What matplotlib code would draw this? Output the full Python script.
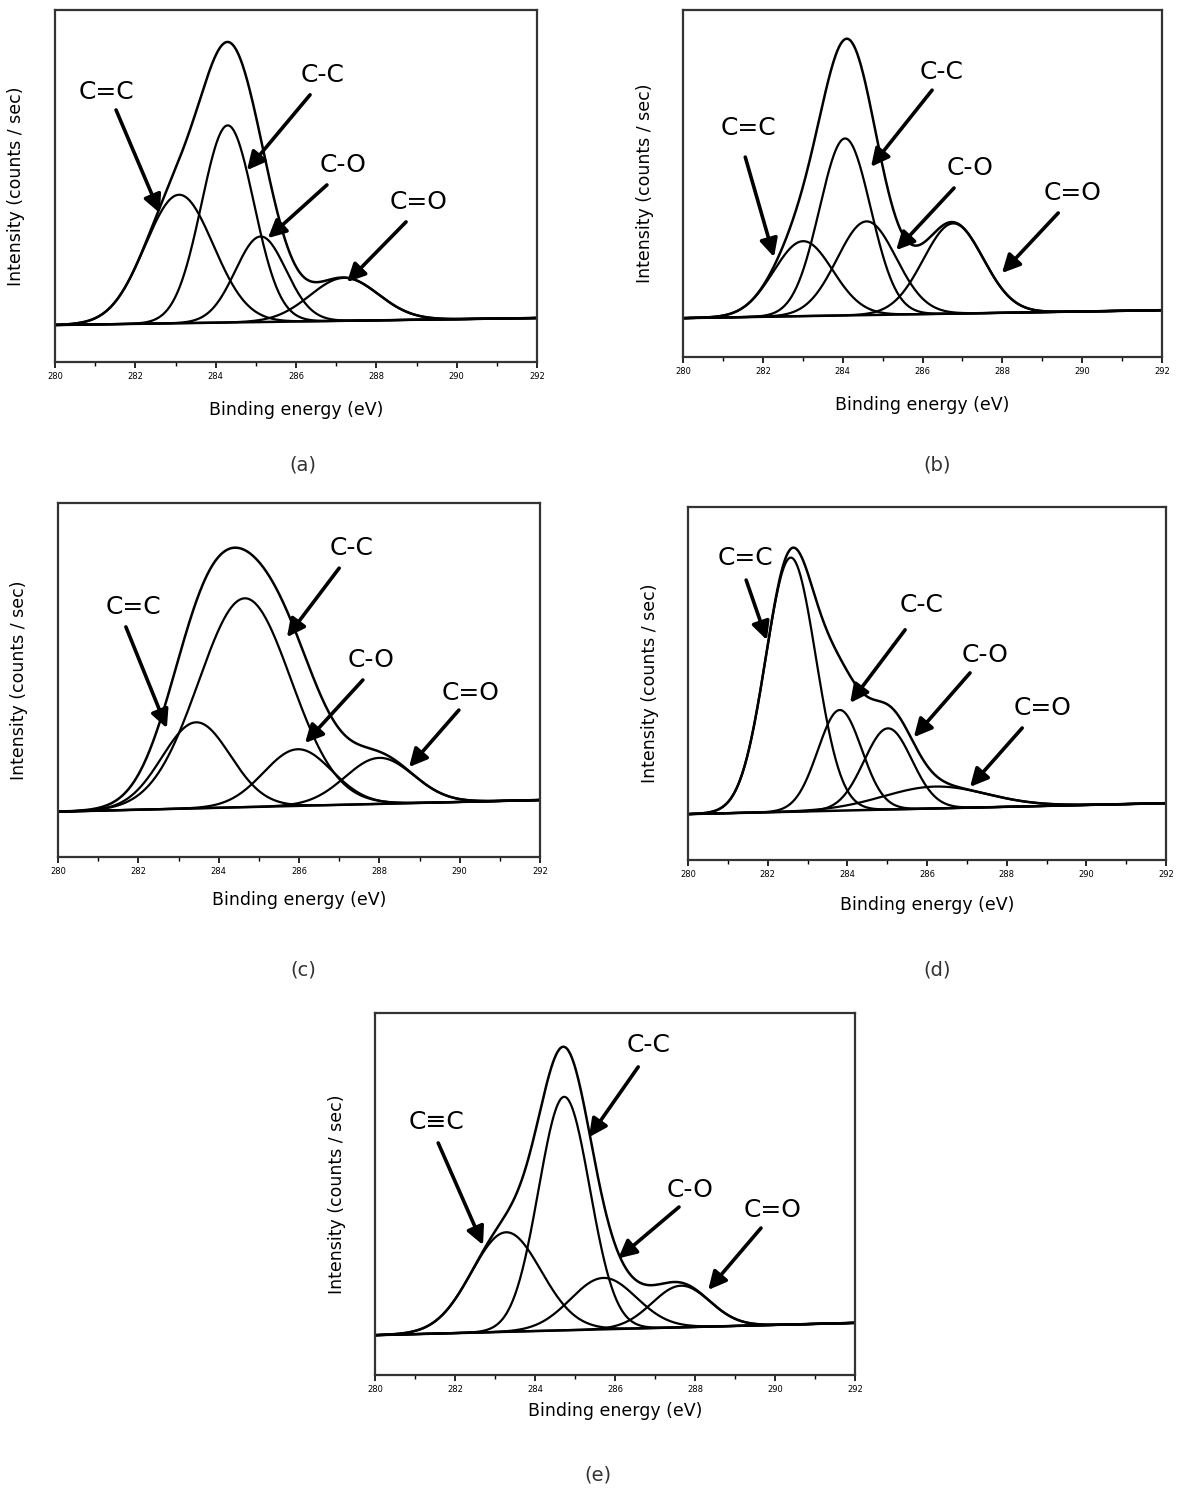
import numpy as np
import matplotlib
matplotlib.use("Agg")
from matplotlib import pyplot as plt

# C 1s deconvolution: one entry per panel, peaks ordered C=C, C-C, C-O, C=O
panelNames = ['(a)', '(b)', '(c)', '(d)', '(e)']
peakLabels = [['C=C', 'C-C', 'C-O', 'C=O']] * 4 + [['C\u2261C', 'C-C', 'C-O', 'C=O']]

peakCentres = [[283.09, 284.30, 285.12, 287.20],
               [283.01, 284.06, 284.60, 286.77],
               [283.44, 284.65, 285.97, 288.00],
               [282.58, 283.81, 285.02, 286.20],
               [283.28, 284.73, 285.71, 287.65]]
peakHeights = [[0.365, 0.560, 0.243, 0.122],
               [0.216, 0.510, 0.270, 0.260],
               [0.243, 0.590, 0.160, 0.130],
               [0.720, 0.285, 0.230, 0.062],
               [0.275, 0.645, 0.142, 0.115]]
peakSigmas = [[0.85, 0.65, 0.63, 0.85],
              [0.74, 0.64, 0.74, 0.75],
              [0.85, 1.15, 0.85, 0.85],
              [0.63, 0.55, 0.60, 1.30],
              [0.87, 0.64, 0.82, 0.72]]
# background level at 280 eV and at 292 eV
baseStart = [0.105, 0.112, 0.128, 0.130, 0.110]
baseEnd = [0.125, 0.135, 0.161, 0.161, 0.144]

xTicks = np.arange(280, 293, 2)

# Layout (pixels in the 1184x1488 picture): left, right, top, bottom of each frame
boxes = [(55, 537, 10, 362), (683, 1162, 10, 357), (58, 540, 503, 857),
         (688, 1166, 507, 860), (375, 855, 1013, 1375)]
captionPos = [(303, 465), (937, 465), (303, 970), (937, 970), (598, 1475)]
xlabelY = [-0.136, -0.138, -0.121, -0.127, -0.100]
# label position, arrow tail, arrow tip (eV, axes fraction)
notes = [
    [((281.27, 0.767), (281.52, 0.716), (282.61, 0.423)),
     ((286.65, 0.815), (286.35, 0.759), (284.78, 0.545)),
     ((287.17, 0.560), (286.77, 0.503), (285.30, 0.352)),
     ((289.04, 0.455), (288.74, 0.398), (287.27, 0.227))],
    [((281.65, 0.660), (281.56, 0.576), (282.28, 0.288)),
     ((286.49, 0.821), (286.24, 0.769), (284.71, 0.548)),
     ((287.19, 0.545), (286.79, 0.487), (285.34, 0.308)),
     ((289.77, 0.473), (289.40, 0.415), (287.99, 0.242))],
    [((281.89, 0.706), (281.69, 0.650), (282.71, 0.364)),
     ((287.32, 0.873), (287.00, 0.816), (285.70, 0.621)),
     ((287.79, 0.556), (287.59, 0.500), (286.15, 0.322)),
     ((290.26, 0.463), (289.98, 0.415), (288.74, 0.254))],
    [((281.43, 0.856), (281.46, 0.793), (281.98, 0.623)),
     ((285.87, 0.722), (285.45, 0.652), (284.07, 0.445)),
     ((287.46, 0.581), (287.08, 0.530), (285.67, 0.348)),
     ((288.91, 0.431), (288.39, 0.374), (287.08, 0.207))],
    [((281.55, 0.699), (281.58, 0.641), (282.70, 0.359)),
     ((286.83, 0.912), (286.58, 0.851), (285.35, 0.657)),
     ((287.88, 0.511), (287.60, 0.464), (286.08, 0.322)),
     ((289.93, 0.456), (289.65, 0.406), (288.33, 0.235))],
]

W, H = 1184, 1488
fig = plt.figure(figsize=(W / 100, H / 100), dpi=100)
energy = np.linspace(280, 292, 600)

for i in range(5):
    L, R, T, B = boxes[i]
    ax = fig.add_axes([L / W, 1 - B / H, (R - L) / W, (B - T) / H])

    base = baseStart[i] + (baseEnd[i] - baseStart[i]) * (energy - 280) / 12.0
    total = base.copy()
    for c, h, s in zip(peakCentres[i], peakHeights[i], peakSigmas[i]):
        g = h * np.exp(-0.5 * ((energy - c) / s) ** 2)
        total += g
        ax.plot(energy, base + g, color='k', lw=1.6)
    ax.plot(energy, base, color='k', lw=1.8)
    ax.plot(energy, total, color='k', lw=1.8)

    for lab, (txt, tail, tip) in zip(peakLabels[i], notes[i]):
        ax.text(txt[0], txt[1], lab, fontsize=18, ha='center', va='center',
                transform=ax.get_xaxis_transform())
        ax.annotate('', xy=tip, xytext=tail,
                    xycoords=ax.get_xaxis_transform(),
                    textcoords=ax.get_xaxis_transform(),
                    arrowprops=dict(arrowstyle='-|>', lw=2.6, color='k',
                                    mutation_scale=27, shrinkA=0, shrinkB=0))

    ax.set_xlim(280, 292)
    ax.set_ylim(0, 1)
    ax.set_yticks([])
    ax.set_xticks(xTicks)
    ax.set_xticks(np.arange(281, 292, 2), minor=True)
    ax.tick_params(axis='x', which='major', direction='out', length=4, width=1.2,
                   labelsize=6, pad=3)
    ax.tick_params(axis='x', which='minor', direction='out', length=3, width=1.0)
    for sp in ax.spines.values():
        sp.set_linewidth(1.6)
        sp.set_color('#333333')

    ax.set_xlabel('Binding energy (eV)', fontsize=12.5)
    ax.xaxis.set_label_coords(0.5, xlabelY[i])
    ax.xaxis.label.set_va('center')
    ax.set_ylabel('Intensity (counts / sec)', fontsize=12.5)
    ax.yaxis.set_label_coords(-0.08, 0.5)
    ax.yaxis.label.set_va('center')

    cx, cy = captionPos[i]
    fig.text(cx / W, 1 - cy / H, panelNames[i], fontsize=14, color='#333333',
             ha='center', va='center')

fig.savefig('out.png', dpi=100)
